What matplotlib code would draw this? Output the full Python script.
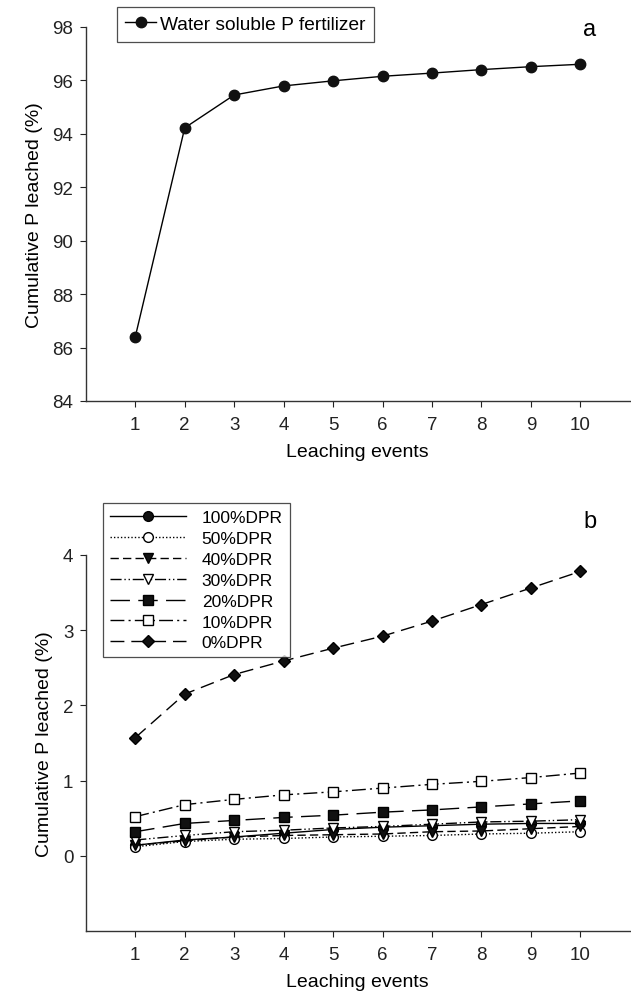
import matplotlib
matplotlib.use("Agg")
import matplotlib.pyplot as plt

plt.rcParams['font.family'] = ['Liberation Sans', 'DejaVu Sans']

events = [1, 2, 3, 4, 5, 6, 7, 8, 9, 10]

# panel a
water_soluble = [86.4, 94.22, 95.45, 95.79, 95.98, 96.15, 96.27, 96.4, 96.51, 96.6]

# panel b
dpr_100 = [0.14, 0.21, 0.25, 0.30, 0.35, 0.38, 0.40, 0.42, 0.43, 0.43]
dpr_50 = [0.12, 0.19, 0.22, 0.23, 0.25, 0.26, 0.27, 0.29, 0.30, 0.32]
dpr_40 = [0.14, 0.20, 0.25, 0.27, 0.28, 0.29, 0.32, 0.33, 0.36, 0.39]
dpr_30 = [0.21, 0.27, 0.32, 0.34, 0.37, 0.39, 0.42, 0.45, 0.46, 0.48]
dpr_20 = [0.32, 0.43, 0.47, 0.51, 0.54, 0.58, 0.61, 0.65, 0.69, 0.73]
dpr_10 = [0.52, 0.68, 0.75, 0.81, 0.85, 0.90, 0.95, 0.99, 1.04, 1.10]
dpr_0 = [1.57, 2.15, 2.41, 2.59, 2.76, 2.92, 3.12, 3.34, 3.56, 3.78]

fig = plt.figure(figsize=(6.31, 9.95), dpi=100)


def style_axes(ax):
    for s in ['top', 'right']:
        ax.spines[s].set_visible(False)
    for s in ['left', 'bottom']:
        ax.spines[s].set_linewidth(1.0)
        ax.spines[s].set_color('#333333')
    ax.tick_params(direction='out', length=4, width=0.8, labelsize=13.5,
                   colors='#222222', pad=5)
    ax.tick_params(axis='x', pad=7)
    ax.set_xlim(0, 11)
    ax.set_xticks(events)
    ax.set_xlabel('Leaching events', fontsize=14, labelpad=7)
    ax.set_ylabel('Cumulative P leached (%)', fontsize=14, labelpad=7)


# Panel a
ax1 = fig.add_axes([0.136, 0.596, 0.862, 0.376])
ax1.plot(events, water_soluble, '-', color='black', lw=1.0, marker='o',
         markersize=7.5, markerfacecolor='#111111', markeredgecolor='#111111',
         label='Water soluble P fertilizer')
ax1.set_ylim(84, 98)
ax1.set_yticks(range(84, 99, 2))
style_axes(ax1)
leg1 = ax1.legend(loc='upper left', bbox_to_anchor=(0.057, 1.053), fontsize=13.8,
                  frameon=True, fancybox=False, edgecolor='#222222',
                  handlelength=1.6, handletextpad=0.2, borderpad=0.45,
                  borderaxespad=0)
leg1.get_frame().set_linewidth(0.9)
fig.text(0.935, 0.97, 'a', fontsize=17, ha='center', va='center')

# Panel b
ax2 = fig.add_axes([0.136, 0.0633, 0.862, 0.378])
series = [
    (dpr_100, '100%DPR', '-', 'o', '#111111'),
    (dpr_50, '50%DPR', (0, (1, 1.5)), 'o', 'white'),
    (dpr_40, '40%DPR', (0, (6, 3)), 'v', '#111111'),
    (dpr_30, '30%DPR', (0, (8, 2, 1, 2, 1, 2)), 'v', 'white'),
    (dpr_20, '20%DPR', (0, (14, 6)), 's', '#111111'),
    (dpr_10, '10%DPR', (0, (10, 3, 1.5, 3)), 's', 'white'),
    (dpr_0, '0%DPR', (0, (10, 5)), 'D', '#111111'),
]
for vals, lab, ls, mk, fc in series:
    ms = 6 if mk == 'D' else 7
    ax2.plot(events, vals, linestyle=ls, color='black', lw=1.0, marker=mk,
             markersize=ms, markerfacecolor=fc, markeredgecolor='black',
             markeredgewidth=1.0, label=lab)
ax2.set_ylim(-1, 4)
ax2.set_yticks([0, 1, 2, 3, 4])
style_axes(ax2)
leg2 = ax2.legend(loc='upper left', bbox_to_anchor=(0.031, 1.138), fontsize=12.5,
                  frameon=True, fancybox=False, edgecolor='#222222',
                  handlelength=4.4, handletextpad=0.9, borderpad=0.4,
                  labelspacing=0.33, borderaxespad=0)
leg2.get_frame().set_linewidth(0.9)
fig.text(0.935, 0.475, 'b', fontsize=17, ha='center', va='center')

fig.savefig('out.png', dpi=100)
